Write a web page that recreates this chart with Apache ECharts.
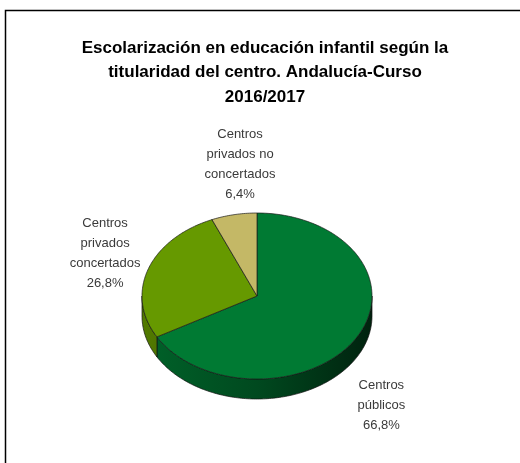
<!DOCTYPE html>
<html>
<head>
<meta charset="utf-8">
<title>Escolarización en educación infantil</title>
<script src="https://cdn.jsdelivr.net/npm/echarts@6/dist/echarts.min.js"></script>
<style>
	html, body { margin: 0; padding: 0; background: #fff; }
	#chart { width: 520px; height: 463px; }
</style>
</head>
<body>
<div id="chart"></div>
<script>
// datos del gráfico (orden horario desde las 12)
var categorias = ['Centros\npúblicos', 'Centros\nprivados\nconcertados', 'Centros\nprivados no\nconcertados'];
var porcentajes = [66.8, 26.8, 6.4];
var colores = ['#007a33', '#669900', '#c4b866'];

var titulo = 'Escolarización en educación infantil según la\ntitularidad del centro. Andalucía-Curso\n2016/2017';

// geometría de la tarta "3D"
var cx = 257, cy = 296, rx = 115, ry = 83, grosor = 20;
// desplazamiento de las etiquetas respecto al borde de cada porción
var ajusteEtiqueta = [[25, 68], [-43, -16], [6, -50]];

function oscurecer(hex, f) {
	var n = parseInt(hex.slice(1), 16);
	var r = Math.round(((n >> 16) & 255) * f),
		g = Math.round(((n >> 8) & 255) * f),
		b = Math.round((n & 255) * f);
	return 'rgb(' + r + ',' + g + ',' + b + ')';
}

function punto(ang, dy) {
	var a = ang * Math.PI / 180;
	return [cx + rx * Math.sin(a), cy - ry * Math.cos(a) + (dy || 0)];
}

function arco(a1, a2, dy) {
	var pts = [];
	var n = Math.max(2, Math.ceil(Math.abs(a2 - a1)));
	for (var i = 0; i <= n; i++) {
		pts.push(punto(a1 + (a2 - a1) * i / n, dy));
	}
	return pts;
}

function formatoPct(v) {
	return v.toFixed(1).replace('.', ',') + '%';
}

var total = porcentajes.reduce(function(a, b) { return a + b; }, 0);

function renderPorcion(params, api) {
	var idx = params.dataIndex;
	var acum = 0;
	for (var i = 0; i < idx; i++) acum += porcentajes[i];
	var a1 = acum / total * 360;
	var a2 = (acum + api.value(0)) / total * 360;
	var color = colores[idx];
	var hijos = [];

	// lateral visible (mitad delantera, de 90º a 270º)
	var s = Math.max(a1, 90), e = Math.min(a2, 270);
	if (e > s) {
		hijos.push({
			type: 'polygon',
			z2: 1,
			shape: { points: arco(s, e, 0).concat(arco(e, s, grosor)) },
			style: {
				fill: {
					type: 'linear', global: true,
					x: cx + rx, y: 0, x2: cx - rx, y2: 0,
					colorStops: [
						{ offset: 0, color: oscurecer(color, 0.28) },
						{ offset: 0.5, color: oscurecer(color, 0.6) },
						{ offset: 1, color: oscurecer(color, 0.8) }
					]
				},
				stroke: '#111',
				lineWidth: 0.7
			}
		});
	}

	// cara superior
	hijos.push({
		type: 'polygon',
		z2: 10,
		shape: { points: [[cx, cy]].concat(arco(a1, a2, 0)) },
		style: { fill: color, stroke: '#1a1a1a', lineWidth: 0.7 }
	});

	// etiqueta
	var medio = punto((a1 + a2) / 2, 0);
	hijos.push({
		type: 'text',
		z2: 20,
		style: {
			text: categorias[idx] + '\n' + formatoPct(api.value(0)),
			x: medio[0] + ajusteEtiqueta[idx][0],
			y: medio[1] + ajusteEtiqueta[idx][1],
			align: 'center',
			verticalAlign: 'middle',
			font: '13px "Liberation Sans", Arial, sans-serif',
			lineHeight: 20,
			fill: '#3a3a3a'
		}
	});

	return { type: 'group', children: hijos };
}

var chart = echarts.init(document.getElementById('chart'));
chart.setOption({
	animation: false,
	backgroundColor: '#fff',
	graphic: [{
		type: 'rect',
		shape: { x: 5.5, y: 10.5, width: 540, height: 480 },
		style: { fill: 'none', stroke: '#000', lineWidth: 1.5 },
		silent: true
	}, {
		// título
		type: 'text',
		x: 265,
		y: 36,
		style: {
			text: titulo,
			align: 'center',
			verticalAlign: 'top',
			font: 'bold 17px "Liberation Sans", Arial, sans-serif',
			lineHeight: 24.5,
			fill: '#000'
		},
		silent: true
	}],
	series: [{
		type: 'custom',
		coordinateSystem: 'none',
		data: porcentajes,
		renderItem: renderPorcion
	}]
});
</script>
</body>
</html>
